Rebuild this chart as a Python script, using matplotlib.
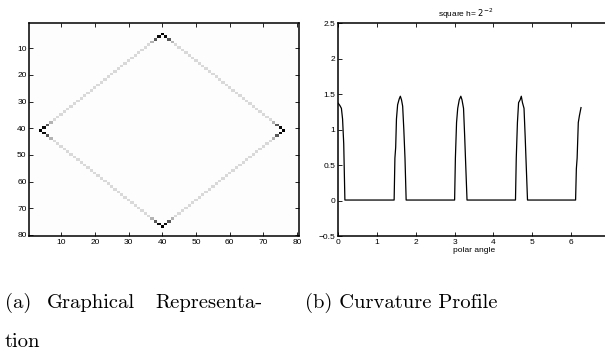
import numpy as np
import matplotlib
matplotlib.use('Agg')
import matplotlib.pyplot as plt

# (a) diamond drawn on an 80x80 grid: vertices as (column, row)
grid_size = 80
diamond_vertices = [(40, 5), (76, 41), (40, 77), (4, 41)]
edge_shade = 0.85
background_shade = 0.99
# shade of the edge pixels by distance from a vertex
corner_shades = [0.0, 0.05, 0.35, 0.7]

# (b) curvature profile
polar_angle = [0.00, 0.04, 0.08, 0.11, 0.14, 0.17,
               1.44, 1.46, 1.48, 1.50, 1.53, 1.57, 1.60, 1.63, 1.66, 1.69, 1.72, 1.75,
               3.00, 3.02, 3.05, 3.08, 3.12, 3.16, 3.19, 3.23, 3.26, 3.28, 3.32,
               4.57, 4.59, 4.62, 4.65, 4.69, 4.72, 4.75, 4.79, 4.82, 4.84, 4.88,
               6.12, 6.14, 6.16, 6.19, 6.22, 6.26]
curvature = [1.37, 1.34, 1.30, 1.15, 0.80, 0.01,
             0.01, 0.60, 0.75, 1.15, 1.35, 1.43, 1.47, 1.42, 1.33, 1.00, 0.60, 0.01,
             0.01, 0.60, 1.10, 1.30, 1.42, 1.47, 1.42, 1.30, 0.90, 0.60, 0.01,
             0.01, 0.60, 1.10, 1.38, 1.42, 1.47, 1.38, 1.30, 0.90, 0.60, 0.01,
             0.01, 0.45, 0.60, 1.10, 1.20, 1.31]

# build the image
img = np.full((grid_size, grid_size), background_shade)
n_vert = len(diamond_vertices)
for i in range(n_vert):
    c0, r0 = diamond_vertices[i]
    c1, r1 = diamond_vertices[(i + 1) % n_vert]
    steps = max(abs(c1 - c0), abs(r1 - r0))
    for s in range(steps + 1):
        c = int(round(c0 + (c1 - c0) * s / steps))
        r = int(round(r0 + (r1 - r0) * s / steps))
        d = min(s, steps - s)
        shade = corner_shades[d] if d < len(corner_shades) else edge_shade
        img[r - 1, c - 1] = min(img[r - 1, c - 1], shade)

fig = plt.figure(figsize=(6.05, 3.6), dpi=100)
tick_font = {'family': 'Liberation Sans', 'size': 6}

ax1 = fig.add_axes([29.4 / 605, 1 - 236.3 / 360, 269.1 / 605, 213.3 / 360])
ax1.imshow(img, cmap='gray', vmin=0, vmax=1, aspect='auto',
           extent=[0.5, grid_size + 0.5, grid_size + 0.5, 0.5],
           interpolation='nearest')
ax1.set_xticks(range(10, 81, 10))
ax1.set_yticks(range(10, 81, 10))

ax2 = fig.add_axes([338.3 / 605, 1 - 236.3 / 360, 271.4 / 605, 213.3 / 360])
ax2.plot(polar_angle, curvature, color='black', lw=0.9)
ax2.set_xlim(0, 7)
ax2.set_ylim(-0.5, 2.5)
ax2.set_xticks(range(0, 7))
ax2.set_yticks([-0.5, 0, 0.5, 1, 1.5, 2, 2.5])
ax2.set_yticklabels(['\u22120.5', '0', '0.5', '1', '1.5', '2', '2.5'])
ax2.set_xlabel('polar angle', fontdict=tick_font, labelpad=1)
ax2.text(0.47, 1.01, r'square h= $2^{-2}$', transform=ax2.transAxes,
         ha='center', va='bottom', fontdict=tick_font)

for ax in (ax1, ax2):
    ax.tick_params(direction='in', length=3, width=0.6, top=True, right=True,
                   labelsize=6, pad=2)
    for lab in ax.get_xticklabels() + ax.get_yticklabels():
        lab.set_family('Liberation Sans')
    for sp in ax.spines.values():
        sp.set_linewidth(1.1)

cap = {'family': 'cmr10', 'size': 14.8}
fig.text(5 / 605, 1 - 303 / 360, '(a)', va='center', fontdict=cap)
fig.text(47 / 605, 1 - 303 / 360, 'Graphical', va='center', fontdict=cap)
fig.text(155 / 605, 1 - 303 / 360, 'Representa-', va='center', fontdict=cap)
fig.text(5 / 605, 1 - 342 / 360, 'tion', va='center', fontdict=cap)
fig.text(305 / 605, 1 - 303 / 360, '(b) Curvature Profile', va='center', fontdict=cap)

fig.savefig('out.png', dpi=100)
